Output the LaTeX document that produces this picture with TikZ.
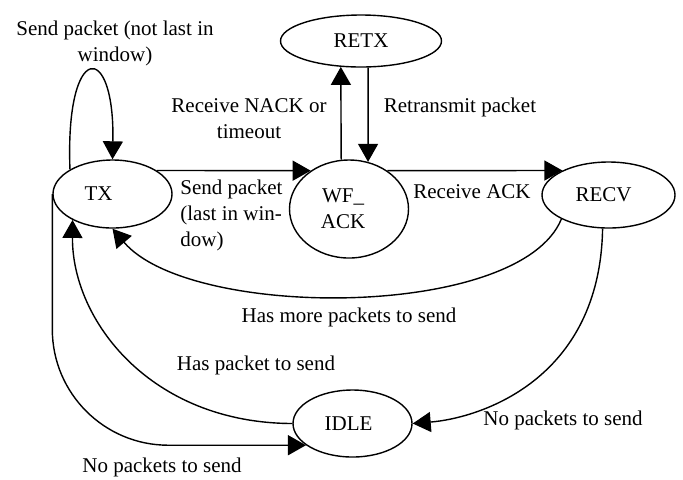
\documentclass[tikz,border=0pt]{standalone}
\usepackage{fontspec}
\setmainfont{Liberation Serif}
\usetikzlibrary{shapes.geometric,arrows.meta}
\begin{document}
\begin{tikzpicture}[x=0.5pt,y=-0.5pt,
    font=\fontsize{10.5}{13}\selectfont,
    state/.style={draw,ellipse,line width=0.7pt,inner sep=0pt},
    trans/.style={line width=0.7pt,-{Triangle[length=9pt,width=10pt]}},
    lbl/.style={inner sep=0pt,align=center}]

\useasboundingbox (0,0) rectangle (683,479);

% Draw the states
\node[state,minimum width=59.5pt,minimum height=34pt,label={[xshift=-7pt]center:TX}] (tx) at (112.5,194) {};
\node[state,minimum width=80.5pt,minimum height=26pt,label=center:RETX] (retx) at (361,41) {};
\node[state,minimum width=59.5pt,minimum height=49pt,label={[xshift=-3pt,align=center]center:WF\_\\ACK}] (wf) at (349,209) {};
\node[state,minimum width=66.5pt,minimum height=33pt,label={[xshift=-2.5pt]center:RECV}] (recv) at (608.5,195) {};
\node[state,minimum width=59.5pt,minimum height=33.5pt,label={[xshift=-2pt]center:IDLE}] (idle) at (352.5,423.5) {};

% Draw the transitions
\draw[trans] (tx.150) .. controls (65,40) and (115,40) .. (tx.north);
\draw[trans] (tx.28) -- (wf.135);
\draw[trans] (wf.99) -- (retx.232);
\draw[trans] (retx.285) -- (wf.68);
\draw[trans] (wf.45) -- (recv.152);
\draw[trans] (recv.207) .. controls (520,320) and (190,320) .. (tx.south);
\draw[trans] (idle.west) .. controls (150,423) and (72,320) .. (tx.213);
\draw[trans,rounded corners=58pt] (tx.west) |- (idle.205);
\draw[trans] (recv.260) .. controls (600,380) and (480,418) .. (idle.east);

% Add the transition labels
\node[lbl] (loopl) at (115,43) {Send packet (not last in\\window)};
\node[lbl] (nackl) at (249,119) {Receive NACK or\\timeout};
\node[lbl] (retl) at (460,107) {Retransmit packet};
\node[lbl,align=left,anchor=west] (sendl) at (180,215) {Send packet\\(last in win-\\dow)};
\node[lbl] (ackl) at (472,192) {Receive ACK};
\node[lbl] (morel) at (349,317) {Has more packets to send};
\node[lbl] (hasl) at (256,365) {Has packet to send};
\node[lbl] (nol) at (162,467) {No packets to send};
\node[lbl] (nor) at (563,420) {No packets to send};

\end{tikzpicture}
\end{document}
